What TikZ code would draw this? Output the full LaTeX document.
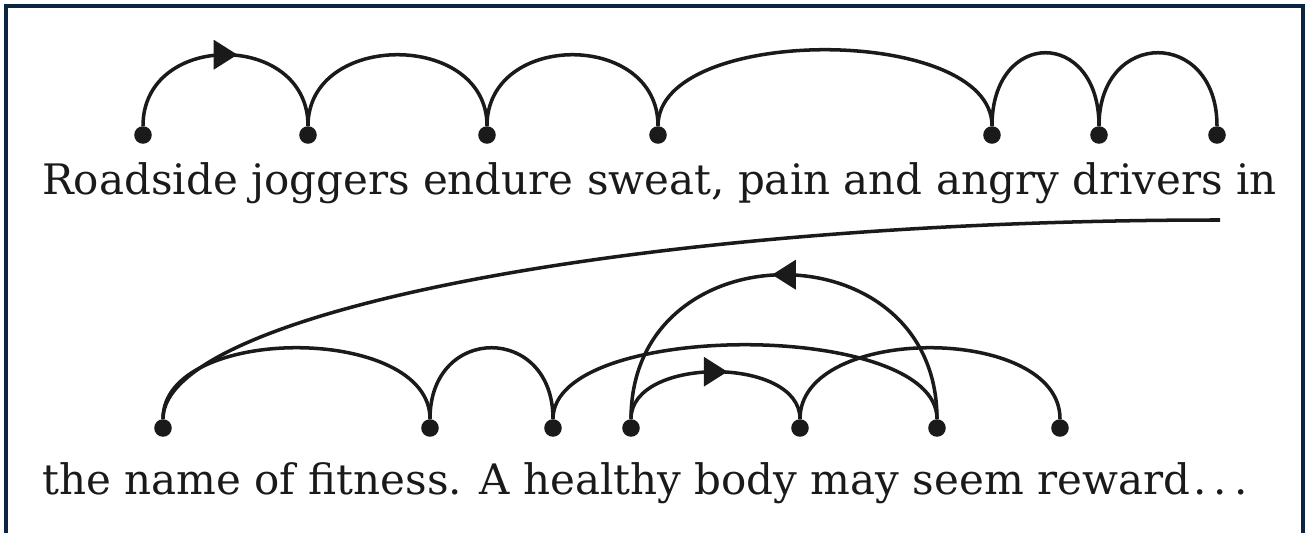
\documentclass[tikz,border=0pt]{standalone}
\usepackage{fontspec}
\setmainfont{DejaVu Serif}
\usetikzlibrary{arrows.meta,decorations.markings}
\definecolor{WlInk}{RGB}{26,26,26}
\definecolor{WlFrame}{RGB}{10,37,64}
\tikzset{
  wl/dot/.style={
    circle,
    fill=WlInk,
    inner sep=0pt,
    minimum size=10pt
  },
  wl/link/.style={line width=2pt, draw=WlInk},
  wl/dirlink/.style={
    wl/link,
    postaction={decorate},
    decoration={markings,
      mark=at position 0.5 with {\arrow[xshift=6.8pt]{Triangle[length=13.5pt,width=16.5pt]}}}
  },
  wl/words/.style={
    anchor=base west,
    inner sep=0pt,
    text=WlInk,
    font=\fontsize{23.9}{28}\selectfont
  },
  wl/frame/.style={line width=2pt, draw=WlFrame}
}

\begin{document}
\begin{tikzpicture}[x=0.02cm,y=-0.02cm]
  \useasboundingbox (0,0) rectangle (1308,533);
  \draw[wl/frame] (6,540) -- (6,6) -- (1303,6) -- (1303,540);

  % the two lines of text
  \node[wl/words] (line1) at (42,195) {Roadside joggers endure sweat, pain and angry drivers in};
  \node[wl/words] (line2) at (42,494) {the name of fitness. A healthy body may seem reward\kern2pt.\kern4pt.\kern4pt.};

  % word dots
  \foreach \n/\x in {r1/143,r2/308,r3/487,r4/658,r5/992,r6/1099,r7/1217}
  {\node[wl/dot] (\n) at (\x,135) {};}
  \foreach \n/\x in {s1/163,s2/430,s3/553,s4/631,s5/800,s6/937,s7/1060}
  {\node[wl/dot] (\n) at (\x,428) {};}

  % plain links
  \foreach \a/\b/\h in {r2/r3/78,r3/r4/78,r4/r5/83,r5/r6/80,r6/r7/80,
    s1/s2/78,s2/s3/78,s3/s6/81,s5/s7/78}
  {\draw[wl/link] (\a) .. controls +(0,{-4*\h/3}) and +(0,{-4*\h/3}) .. (\b);}

  % links with a direction
  \foreach \a/\b/\h in {r1/r2/78,s4/s5/54,s6/s4/151}
  {\draw[wl/dirlink] (\a) .. controls +(0,{-4*\h/3}) and +(0,{-4*\h/3}) .. (\b);}

  % link carried over the line break
  \coordinate (wrap) at (1220,220);
  \draw[wl/link] (s1) .. controls +(0,-115) and +(-584,0) .. (wrap);
\end{tikzpicture}
\end{document}
